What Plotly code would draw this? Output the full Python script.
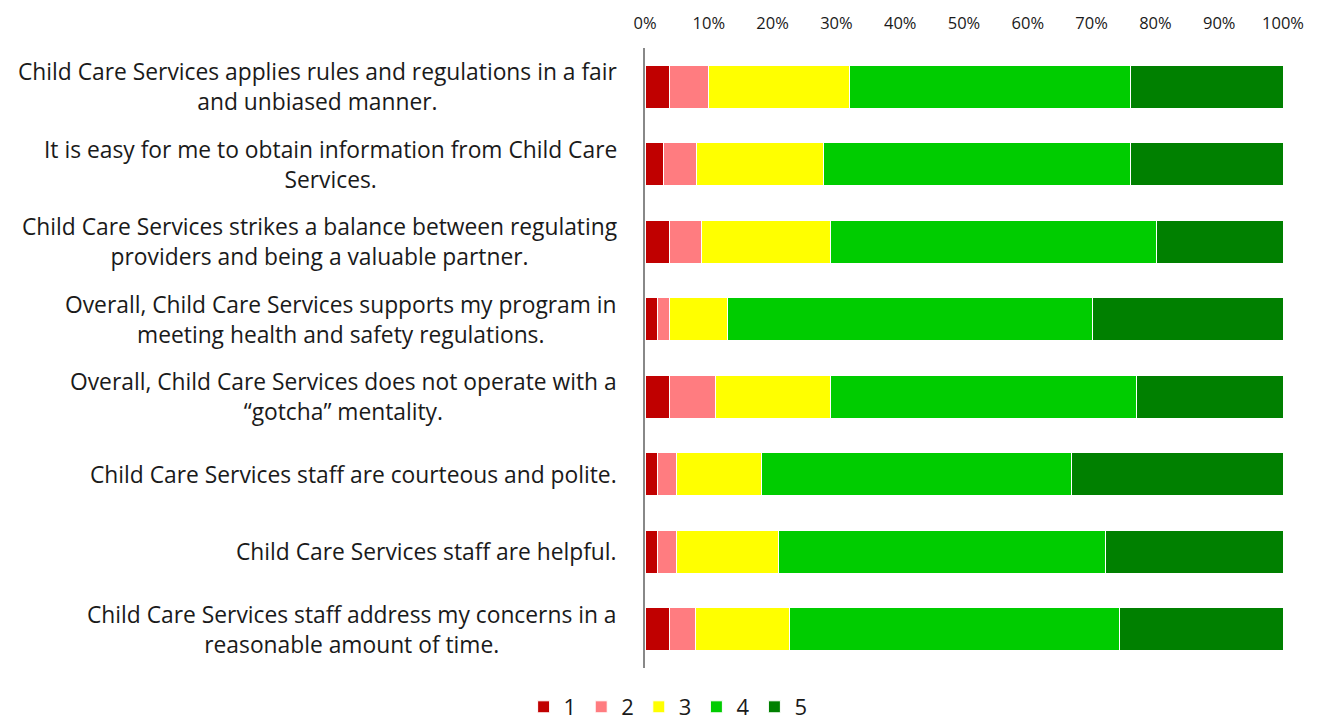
import plotly.graph_objects as go

categories = [
    "Child Care Services applies rules and regulations in a fair<br>and unbiased manner.",
    "It is easy for me to obtain information from Child Care<br>Services.",
    "Child Care Services strikes a balance between regulating<br>providers and being a valuable partner.",
    "Overall, Child Care Services supports my program in<br>meeting health and safety regulations.",
    "Overall, Child Care Services does not operate with a<br>\u201cgotcha\u201d mentality.",
    "Child Care Services staff are courteous and polite.",
    "Child Care Services staff are helpful.",
    "Child Care Services staff address my concerns in a<br>reasonable amount of time.",
]

series_names = ["1", "2", "3", "4", "5"]
s1 = [3.8, 2.9, 3.8, 1.9, 3.8, 1.9, 1.9, 3.9]
s2 = [6.2, 5.1, 5.1, 2.0, 7.2, 3.1, 3.0, 4.0]
s3 = [22.0, 20.0, 20.1, 9.1, 18.0, 13.2, 16.0, 14.8]
s4 = [44.1, 48.1, 51.1, 57.2, 48.1, 48.6, 51.2, 51.7]
s5 = [23.9, 23.9, 19.9, 29.8, 22.9, 33.2, 27.9, 25.6]
values = [s1, s2, s3, s4, s5]
colors = ["#C00000", "#FF7C80", "#FFFF00", "#00CC00", "#008000"]

x_ticks = list(range(0, 101, 10))
x_ticklabels = [f"{v}%" for v in x_ticks]

FONT = "'Open Sans', Lato, sans-serif"

fig = go.Figure()
for name, vals, col in zip(series_names, values, colors):
    fig.add_trace(go.Bar(
        y=categories, x=vals, name=name, orientation="h",
        marker=dict(color=col, line=dict(color="white", width=1)),
    ))

# category labels: centered multi-line text, right-aligned block next to axis
for cat in categories:
    fig.add_annotation(
        x=0, xref="paper", y=cat, yref="y",
        text=cat, showarrow=False, xanchor="right", xshift=-26,
        align="center", font=dict(family=FONT, size=22.8, color="#1a1a1a"),
    )

fig.update_layout(
    barmode="stack",
    bargap=0.45,
    width=1323, height=728,
    margin=dict(l=645, r=40, t=48, b=60),
    plot_bgcolor="white", paper_bgcolor="white",
    font=dict(family=FONT, color="#1a1a1a"),
    xaxis=dict(
        side="top", range=[0, 100], tickvals=x_ticks, ticktext=x_ticklabels,
        showgrid=False, zeroline=False, showline=False, ticks="",
        tickfont=dict(size=16.5), ticklabelstandoff=15,
    ),
    yaxis=dict(
        autorange="reversed", showgrid=False, showline=True,
        linecolor="#888888", linewidth=2, ticks="", showticklabels=False,
    ),
    legend=dict(
        orientation="h", xref="container", x=0.505, xanchor="center",
        yref="container", y=0.0, yanchor="bottom",
        font=dict(size=22), traceorder="normal", itemwidth=30,
    ),
)

fig.write_html("out.html")
